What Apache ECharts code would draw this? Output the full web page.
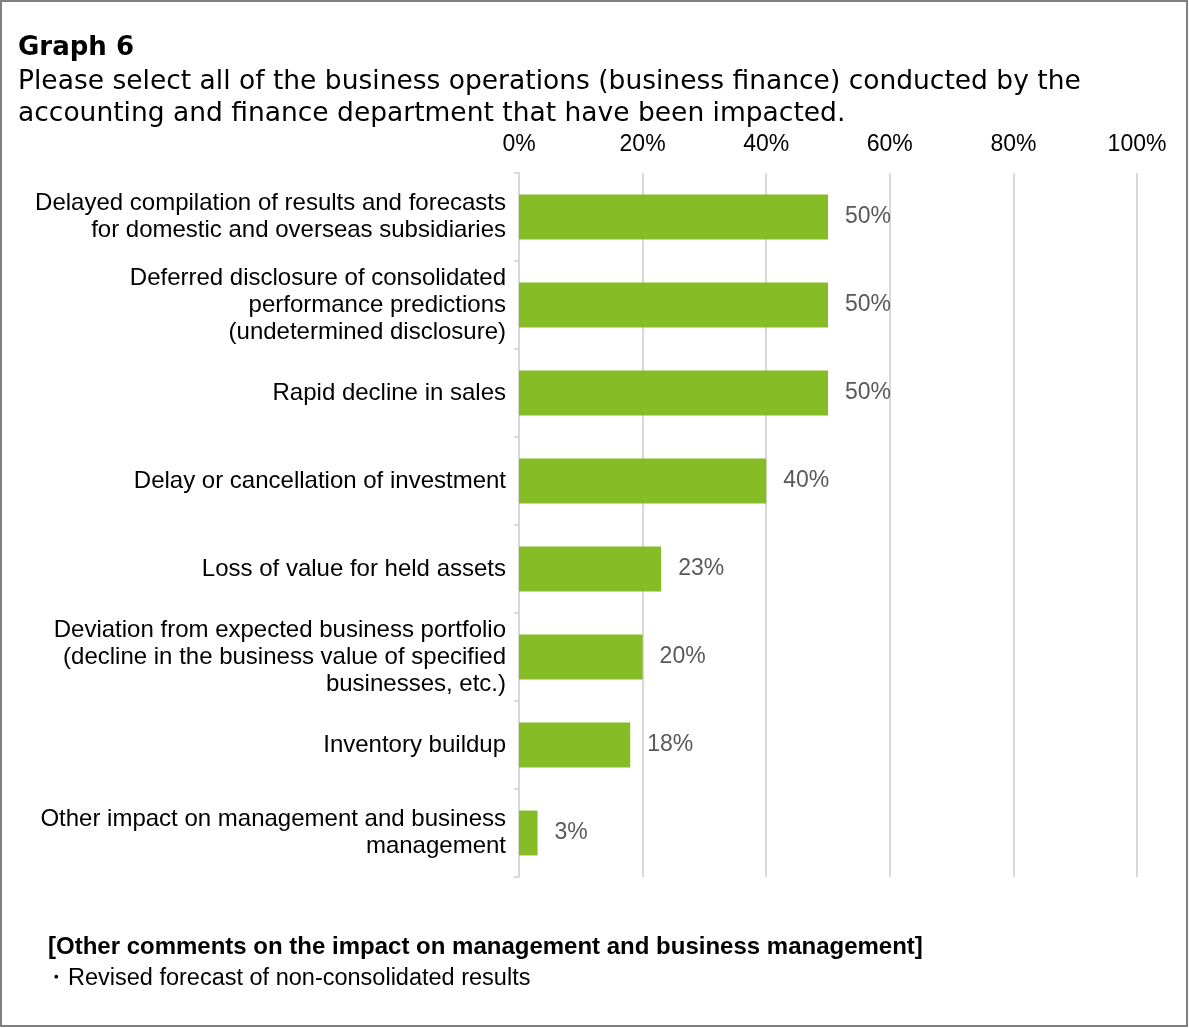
<!DOCTYPE html>
<html>
<head>
<meta charset="utf-8">
<script src="https://cdn.jsdelivr.net/npm/echarts@6/dist/echarts.min.js"></script>
<style>
  html, body { margin: 0; padding: 0; background: #fff; }
  #chart { width: 1189px; height: 1028px; }
</style>
</head>
<body>
<div id="chart"></div>
<script>
// Impacted business operations, share of respondents (%)
const categories = [
  'Delayed compilation of results and forecasts\nfor domestic and overseas subsidiaries',
  'Deferred disclosure of consolidated\nperformance predictions\n(undetermined disclosure)',
  'Rapid decline in sales',
  'Delay or cancellation of investment',
  'Loss of value for held assets',
  'Deviation from expected business portfolio\n(decline in the business value of specified\nbusinesses, etc.)',
  'Inventory buildup',
  'Other impact on management and business\nmanagement'
];
const values = [50, 50, 50, 40, 23, 20, 18, 3];
const axisTicks = [0, 20, 40, 60, 80, 100];

const titleText = 'Graph 6';
const subtitleText = 'Please select all of the business operations (business finance) conducted by the\naccounting and finance department that have been impacted.';
const noteHeading = '[Other comments on the impact on management and business management]';
const noteItems = ['・Revised forecast of non-consolidated results'];

const chart = echarts.init(document.getElementById('chart'), null, { renderer: 'canvas' });

const labelFont = 'Liberation Sans, Arial, sans-serif';

chart.setOption({
  backgroundColor: '#ffffff',
  animation: false,
  grid: { left: 519, right: 52, top: 173, bottom: 151, containLabel: false },
  xAxis: {
    type: 'value',
    position: 'top',
    min: axisTicks[0],
    max: axisTicks[axisTicks.length - 1],
    interval: axisTicks[1] - axisTicks[0],
    axisLine: { show: false },
    axisTick: { show: false },
    axisLabel: {
      formatter: '{value}%',
      fontFamily: labelFont,
      fontSize: 23,
      color: '#000000',
      margin: 17
    },
    splitLine: { show: true, lineStyle: { color: '#d9d9d9', width: 2 } }
  },
  yAxis: {
    type: 'category',
    inverse: true,
    data: categories,
    axisLine: { show: true, lineStyle: { color: '#d9d9d9', width: 2 } },
    axisTick: { show: true, length: 5, alignWithLabel: false, lineStyle: { color: '#d9d9d9', width: 2 } },
    axisLabel: {
      fontFamily: labelFont,
      fontSize: 24,
      lineHeight: 27,
      color: '#000000',
      margin: 13,
      align: 'right'
    }
  },
  series: [{
    type: 'bar',
    data: values,
    barWidth: '51%',
    itemStyle: { color: '#86bc25' },
    label: {
      show: true,
      position: 'right',
      distance: 17,
      formatter: '{c}%',
      fontFamily: labelFont,
      fontSize: 23,
      color: '#595959'
    }
  }],
  graphic: [
    {
      type: 'rect',
      shape: { x: 1, y: 1, width: 1186, height: 1025 },
      style: { fill: 'none', stroke: '#808080', lineWidth: 2 },
      silent: true
    },
    {
      type: 'text',
      left: 18, top: 35,
      style: {
        text: titleText,
        font: 'bold 26px "DejaVu Sans", Verdana, sans-serif',
        fill: '#000000'
      }
    },
    {
      type: 'text',
      left: 18, top: 66,
      style: {
        text: subtitleText,
        font: '26.5px "DejaVu Sans", Verdana, sans-serif',
        lineHeight: 32,
        fill: '#000000'
      }
    },
    {
      type: 'text',
      left: 48, top: 935,
      style: {
        text: noteHeading,
        font: 'bold 24px "Liberation Sans", Arial, sans-serif',
        fill: '#000000'
      }
    },
    {
      type: 'text',
      left: 44, top: 967,
      style: {
        text: noteItems.join('\n'),
        font: '23.5px "Liberation Sans", Arial, sans-serif',
        fill: '#000000'
      }
    }
  ]
});
</script>
</body>
</html>
